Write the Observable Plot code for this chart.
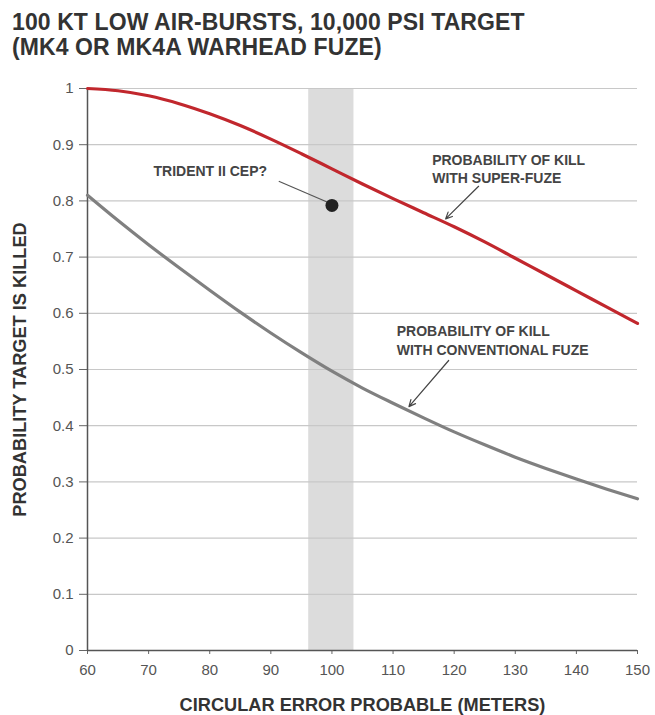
<!DOCTYPE html>
<html>
<head>
<meta charset="utf-8">
<script src="https://cdn.jsdelivr.net/npm/d3@7"></script>
<script src="https://cdn.jsdelivr.net/npm/@observablehq/plot@0.6"></script>
<style>
  html, body { margin: 0; padding: 0; background: #fff; }
  body { width: 655px; height: 715px; overflow: hidden; font-family: "Liberation Sans", Arial, sans-serif; }
  #title { box-sizing: border-box; height: 65px; padding: 10px 0 0 12px; font-size: 23px; line-height: 25px; font-weight: bold; color: #333; letter-spacing: 0.1px; }
  #chart svg { display: block; }
</style>
</head>
<body>
<div id="title">100 KT LOW AIR-BURSTS, 10,000 PSI TARGET<br>(MK4 OR MK4A WARHEAD FUZE)</div>
<div id="chart"></div>
<script>
// Circular error probable (meters)
const cep = [60, 65, 70, 75, 80, 85, 90, 95, 100, 105, 110, 115, 120, 125, 130, 135, 140, 145, 150];
// Probability of kill with super-fuze
const superFuze = [1.0, 0.996, 0.987, 0.973, 0.955, 0.934, 0.910, 0.884, 0.857, 0.830, 0.804, 0.779, 0.754, 0.727, 0.698, 0.669, 0.640, 0.611, 0.582];
// Probability of kill with conventional fuze
const conventional = [0.81, 0.765, 0.722, 0.681, 0.641, 0.602, 0.565, 0.53, 0.497, 0.467, 0.44, 0.414, 0.389, 0.366, 0.344, 0.324, 0.305, 0.287, 0.27];

const xTicks = [60, 70, 80, 90, 100, 110, 120, 130, 140, 150];
const yTicks = [0, 0.1, 0.2, 0.3, 0.4, 0.5, 0.6, 0.7, 0.8, 0.9, 1];
const yTickLabels = ["0", "0.1", "0.2", "0.3", "0.4", "0.5", "0.6", "0.7", "0.8", "0.9", "1"];

// Trident II CEP band and point
const cepBand = [96.2, 103.6];
const tridentPoint = [{cep: 100, p: 0.792}];
const tridentLabel = [{cep: 70.8, p: 0.852, text: "TRIDENT II CEP?"}];
const tridentLeader = [{x1: 91.3, y1: 0.835, x2: 99.2, y2: 0.798}];

// Curve annotations
const annotations = [
  {cep: 116.4, p: 0.8585, text: "PROBABILITY OF KILL\nWITH SUPER-FUZE"},
  {cep: 110.6, p: 0.5534, text: "PROBABILITY OF KILL\nWITH CONVENTIONAL FUZE"}
];
const annotationArrows = [
  {x1: 124.0, y1: 0.826, x2: 118.6, y2: 0.768},
  {x1: 119.1, y1: 0.516, x2: 112.6, y2: 0.434}
];

const xLabel = "CIRCULAR ERROR PROBABLE (METERS)";
const yLabel = "PROBABILITY TARGET IS KILLED";

const superData = cep.map((c, i) => ({cep: c, p: superFuze[i]}));
const convData = cep.map((c, i) => ({cep: c, p: conventional[i]}));
const bandData = [{x1: cepBand[0], x2: cepBand[1], y1: 0, y2: 1}];
const yFmt = d => yTickLabels[yTicks.findIndex(t => Math.abs(t - d) < 1e-9)];

const font = "Liberation Sans, Arial, sans-serif";

const chart = Plot.plot({
  width: 655,
  height: 650,
  marginTop: 23,
  marginBottom: 65,
  marginLeft: 87,
  marginRight: 18,
  style: {fontFamily: font, background: "#fff", overflow: "visible"},
  x: {domain: [60, 150]},
  y: {domain: [0, 1]},
  marks: [
    Plot.rect(bandData, {x1: "x1", x2: "x2", y1: "y1", y2: "y2", fill: "#dcdcdc"}),
    Plot.gridY(yTicks.filter(t => t > 0), {stroke: "#c8c8c8", strokeOpacity: 1, strokeWidth: 1.2}),
    Plot.axisY({ticks: yTicks, tickFormat: yFmt, tickSize: 8, tickPadding: 6, fontSize: 15, color: "#555", stroke: "#666", label: null}),
    Plot.axisX({ticks: xTicks, tickSize: 4, tickPadding: 10, fontSize: 15, color: "#555", stroke: "#666", label: null}),
    Plot.ruleX([60], {stroke: "#555", strokeWidth: 1.5}),
    Plot.ruleY([0], {stroke: "#555", strokeWidth: 1.5}),
    Plot.line(convData, {x: "cep", y: "p", stroke: "#808080", strokeWidth: 3.2, curve: "monotone-x"}),
    Plot.line(superData, {x: "cep", y: "p", stroke: "#c1272d", strokeWidth: 3.2, curve: "monotone-x"}),
    Plot.link(tridentLeader, {x1: "x1", y1: "y1", x2: "x2", y2: "y2", stroke: "#555", strokeWidth: 1.2}),
    Plot.dot(tridentPoint, {x: "cep", y: "p", r: 6.5, fill: "#222", stroke: "none"}),
    Plot.text(tridentLabel, {x: "cep", y: "p", text: "text", textAnchor: "start", fontSize: 14, fontWeight: "bold", fill: "#444", style: "letter-spacing:0.4px"}),
    Plot.text(annotations, {x: "cep", y: "p", text: "text", textAnchor: "start", fontSize: 14, lineHeight: 1.32, fontWeight: "bold", fill: "#444"}),
    Plot.arrow(annotationArrows, {x1: "x1", y1: "y1", x2: "x2", y2: "y2", stroke: "#444", strokeWidth: 1.2, headLength: 9, headAngle: 50}),
    Plot.text([xLabel], {frameAnchor: "bottom", textAnchor: "middle", dy: 60, fontSize: 18.2, fontWeight: "bold", fill: "#333"}),
    Plot.text([yLabel], {frameAnchor: "left", textAnchor: "middle", dx: -67, rotate: -90, fontSize: 18.2, fontWeight: "bold", fill: "#333"})
  ]
});
document.getElementById("chart").appendChild(chart);
</script>
</body>
</html>
